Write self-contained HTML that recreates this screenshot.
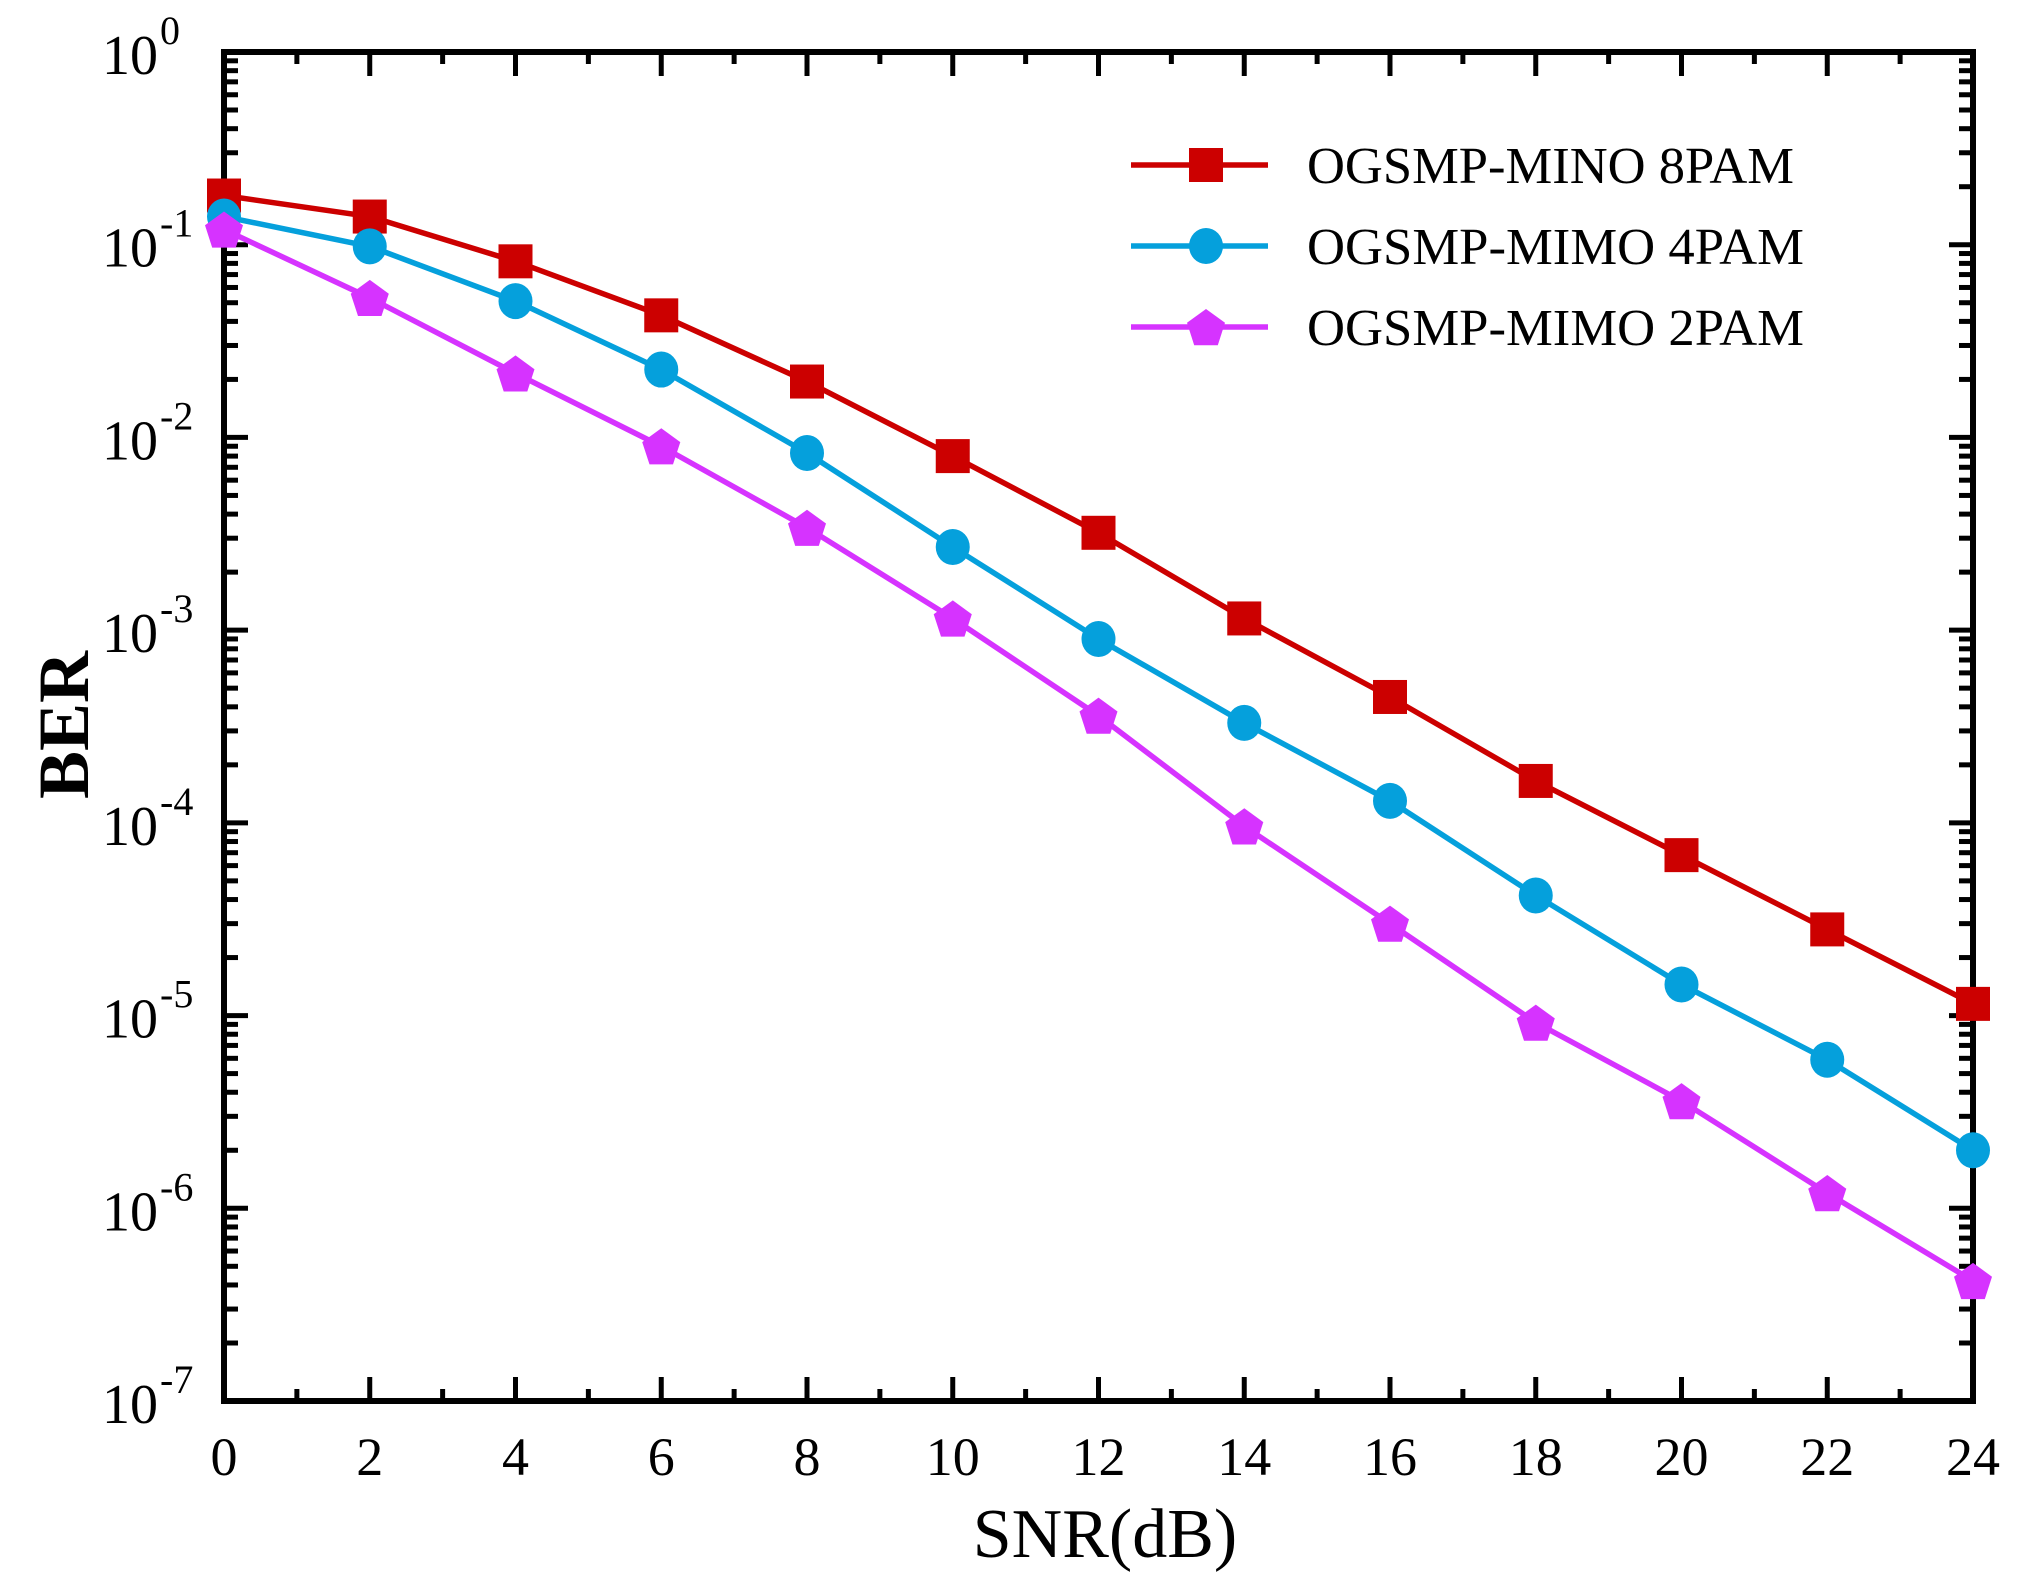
<!DOCTYPE html>
<html><head><meta charset="utf-8"><style>html,body{margin:0;padding:0;background:#fff}svg{display:block}</style></head>
<body>
<svg id="s" width="2028" height="1588" xmlns="http://www.w3.org/2000/svg" font-family="Liberation Serif, serif"></svg>
<script>
const L=224,R=1973,T=52,B=1401,dec=(B-T)/7;
const X=v=>L+(R-L)*v/24, Y=v=>T+(-Math.log10(v))*dec;
let h='';
for(let i=0;i<=24;i++){const x=X(i),len=i%2?12:24;
 h+=`<line x1="${x}" y1="${B}" x2="${x}" y2="${B-len}" stroke="#000" stroke-width="5"/>`;
 h+=`<line x1="${x}" y1="${T}" x2="${x}" y2="${T+len}" stroke="#000" stroke-width="5"/>`;
 if(i%2==0) h+=`<text x="${x}" y="1475" font-size="54" text-anchor="middle">${i}</text>`;}
for(let d=0;d<7;d++){for(let m=1;m<10;m++){const y=T+dec*(d+1)-Math.log10(m)*dec;const len=m==1?24:14;
 h+=`<line x1="${L}" y1="${y}" x2="${L+len}" y2="${y}" stroke="#000" stroke-width="5"/>`;
 h+=`<line x1="${R}" y1="${y}" x2="${R-len}" y2="${y}" stroke="#000" stroke-width="5"/>`;}}
for(let d=0;d<=7;d++){const y=T+dec*d;
 h+=`<text x="158" y="${y+22}" font-size="56" text-anchor="end">10</text><text x="160" y="${y-8}" font-size="40">${d==0?'0':'-'+d}</text>`;}
h+=`<rect x="${L}" y="${T}" width="${R-L}" height="${B-T}" fill="none" stroke="#000" stroke-width="6"/>`;
const S=[
 ['#CC0000','sq',[0.18,0.14,0.082,0.043,0.0195,0.008,0.0032,0.00115,0.00045,0.000165,6.8e-5,2.8e-5,1.15e-5]],
 ['#05A0DC','ci',[0.14,0.098,0.051,0.0225,0.0083,0.0027,0.0009,0.00033,0.00013,4.2e-5,1.45e-5,5.9e-6,2.0e-6]],
 ['#D633FF','pe',[0.12,0.053,0.0215,0.009,0.0034,0.00115,0.00036,9.6e-5,3.0e-5,9.2e-6,3.6e-6,1.2e-6,4.2e-7]]];
function mk(t,x,y,c){
 if(t=='sq')return `<rect x="${x-17}" y="${y-17}" width="34" height="34" fill="${c}"/>`;
 if(t=='ci')return `<ellipse cx="${x}" cy="${y}" rx="17" ry="18" fill="${c}"/>`;
 let p=[];for(let k=0;k<5;k++){const a=-Math.PI/2+k*2*Math.PI/5;p.push((x+20*Math.cos(a)).toFixed(1)+','+(y+2+20*Math.sin(a)).toFixed(1));}
 return `<polygon points="${p.join(' ')}" fill="${c}"/>`;}
h+=`<defs><clipPath id="c"><rect x="${L-22}" y="${T}" width="${R-L+44}" height="${B-T}"/></clipPath></defs><g clip-path="url(#c)">`;
S.forEach(([c,t,d])=>{h+=`<polyline fill="none" stroke="${c}" stroke-width="5.5" points="${d.map((v,i)=>X(2*i)+','+Y(v)).join(' ')}"/>`;
 d.forEach((v,i)=>h+=mk(t,X(2*i),Y(v),c));});
h+='</g>';
const names=['OGSMP-MINO 8PAM','OGSMP-MIMO 4PAM','OGSMP-MIMO 2PAM'];
[165,246,327].forEach((y,i)=>{const [c,t]=S[i];
 h+=`<line x1="1131" y1="${y}" x2="1268" y2="${y}" stroke="${c}" stroke-width="5.5"/>`+mk(t,1206,y,c);
 h+=`<text x="1307" y="${y+18}" font-size="52" textLength="${i==0?487:497}" lengthAdjust="spacingAndGlyphs">${names[i]}</text>`;});
h+=`<text x="1105" y="1557" font-size="70" text-anchor="middle">SNR(dB)</text>`;
h+=`<text transform="translate(88,725) rotate(-90)" font-size="72" font-weight="bold" text-anchor="middle">BER</text>`;
document.getElementById('s').innerHTML=h;
</script>
</body></html>
